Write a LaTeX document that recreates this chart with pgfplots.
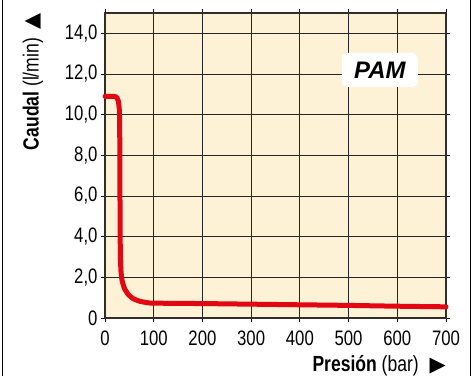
\documentclass[border=0pt]{standalone}
\usepackage{pgfplots}
\pgfplotsset{compat=1.18}
\usepackage{fontspec}
\setmainfont{Liberation Sans}[FakeStretch=0.8]
\newfontfamily\pamfont{Liberation Sans}
\newfontfamily\sym{DejaVu Sans}
\definecolor{bgy}{RGB}{253,242,213}
\definecolor{cred}{RGB}{227,6,19}
\definecolor{axc}{RGB}{50,45,40}
\begin{document}
\begin{tikzpicture}[x=1bp,y=1bp]
\useasboundingbox (0,0) rectangle (473,376);
\draw[line width=1.2bp, black] (2.5,0) -- (2.5,376);
\draw[line width=1.2bp, black] (470.5,0) -- (470.5,376);
\begin{axis}[
  at={(105bp,58bp)}, anchor=south west,
  scale only axis, width=341bp, height=305bp,
  xmin=0, xmax=700, ymin=0, ymax=15,
  xtick={0,100,...,700},
  ytick={0,2,...,14},
  yticklabels={0,{2,0},{4,0},{6,0},{8,0},{10,0},{12,0},{14,0}},
  /pgf/number format/assume math mode=true,
  tick label style={font=\fontsize{21}{23}\selectfont, text=black},
  xticklabel style={yshift=-5bp},
  grid=major,
  major grid style={line width=0.9bp, black!85},
  axis line style={line width=1.1bp, axc},
  tick align=outside,
  major tick length=4bp,
  tick style={line width=0.9bp, black},
  axis background/.style={fill=bgy},
  clip=false,
]
\addplot[cred, line width=5bp, line join=round, line cap=round, smooth, tension=0.3] coordinates {
 (0,10.9) (18,10.9) (24,10.85) (27.5,10.65) (29.5,10.2) (30.2,9.2) (30.6,7) (31,4.5) (31.6,3) (32.8,2.3) (35,1.85) (40,1.45) (48,1.15) (58,0.95) (72,0.82) (88,0.75) (100,0.73) (200,0.71) (300,0.68) (400,0.65) (500,0.62) (600,0.58) (700,0.55)
};
\node[fill=white, rounded corners=6bp, minimum width=76bp, minimum height=34bp, inner sep=0pt,
      font=\pamfont\fontsize{24}{26}\selectfont\bfseries\itshape] at (axis cs:564,12.2) {PAM};
\end{axis}
\node[rotate=90, anchor=east, inner sep=0pt, font=\fontsize{22}{24}\selectfont] at (33,363)
  {\textbf{Caudal} (l/min)\hspace{0.4em}{\sym\fontsize{21}{22}\selectfont ▲}};
\node[anchor=east, inner sep=0pt, font=\fontsize{22}{24}\selectfont] at (446,10)
  {\textbf{Presión} (bar)\hspace{0.5em}{\sym\fontsize{21}{22}\selectfont ▶}};
\end{tikzpicture}
\end{document}
